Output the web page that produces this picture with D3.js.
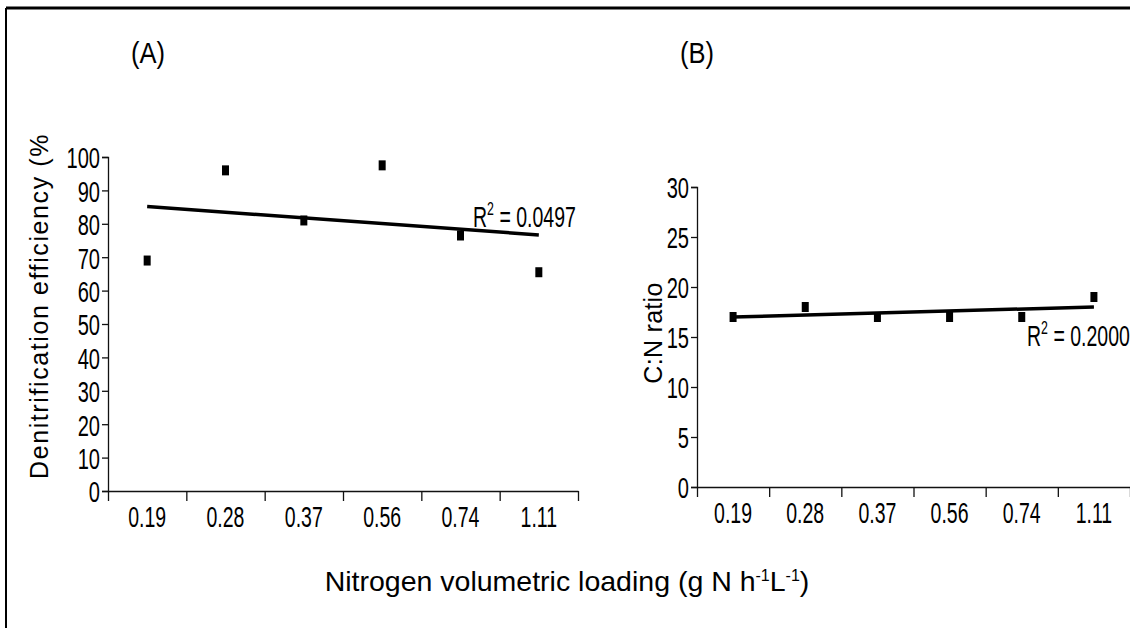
<!DOCTYPE html>
<html>
<head>
<meta charset="utf-8">
<script src="https://cdn.jsdelivr.net/npm/d3@7"></script>
<style>
  body { margin: 0; background: #fff; }
  svg { display: block; }
  text { fill: #000; }
  .narrow { font-family: 'Liberation Sans Narrow', 'Arial Narrow', 'Liberation Sans', sans-serif; }
  .wide { font-family: 'Liberation Sans', Arial, sans-serif; }
</style>
</head>
<body>
<script>
const width = 1130;
const height = 628;

// values
const loadings = ['0.19', '0.28', '0.37', '0.56', '0.74', '1.11'];
const efficiency = [69, 96, 81, 97.5, 76.5, 65.5];
const cnRatio = [17, 18, 17, 17, 17, 19];
const efficiencyTicks = d3.range(0, 101, 10);
const cnTicks = d3.range(0, 31, 5);
const r2Labels = ['0.0497', '0.2000'];

// the source font is a tall, squeezed sans
const squeezeX = 0.65;
const squeezeY = 0.67;

const svg = d3.select('body')
  .append('svg')
    .attr('width', width)
    .attr('height', height);

// frame: top and left edges only
svg.append('line')
  .attr('x1', 6).attr('x2', width).attr('y1', 8).attr('y2', 8)
  .attr('stroke', '#000').attr('stroke-width', 3);
svg.append('line')
  .attr('x1', 6).attr('x2', 6).attr('y1', 8).attr('y2', height)
  .attr('stroke', '#000').attr('stroke-width', 2);

const fit = (values) => {
  const xs = values.map((d, i) => i);
  const mx = d3.mean(xs);
  const my = d3.mean(values);
  const slope = d3.sum(xs, (x, i) => (x - mx) * (values[i] - my)) / d3.sum(xs, (x) => (x - mx) ** 2);
  return (i) => my + slope * (i - mx);
};

const drawPanel = (opts) => {
  const g = svg.append('g');

  const x = d3.scaleBand()
    .domain(loadings)
    .range([opts.left, opts.right]);

  const xEdge = d3.scaleLinear()
    .domain([0, loadings.length])
    .range([opts.left, opts.right]);

  const y = d3.scaleLinear()
    .domain([0, d3.max(opts.ticks)])
    .range([opts.bottom, opts.top]);

  const cx = (c) => x(c) + x.bandwidth() / 2;

  // y axis
  const yAxis = g.append('g')
    .attr('transform', `translate(${opts.left},0)`)
    .call(d3.axisLeft(y).tickValues(opts.ticks).tickSize(6).tickSizeOuter(6));

  yAxis.selectAll('text')
    .attr('class', 'narrow')
    .attr('x', null)
    .attr('dy', '0.36em')
    .attr('transform', `translate(-8,0) scale(${squeezeY},1)`)
    .style('font-size', '30px');

  // x axis: edge ticks, labels centred in the bands
  g.append('g')
    .attr('transform', `translate(0,${opts.bottom})`)
    .call(d3.axisBottom(xEdge).ticks(loadings.length).tickFormat('').tickSize(10).tickSizeOuter(0));

  const xLabels = g.append('g')
    .attr('transform', `translate(0,${opts.bottom})`)
    .call(d3.axisBottom(x).tickSize(0));
  xLabels.select('.domain').remove();
  xLabels.selectAll('text')
    .attr('class', 'narrow')
    .attr('y', null)
    .attr('dy', '0.71em')
    .attr('transform', `translate(0,15) scale(${squeezeX},1)`)
    .style('font-size', '30px');

  g.selectAll('.domain, .tick line')
    .attr('stroke', '#111')
    .attr('stroke-width', 1.3);

  // trend line
  const line = fit(opts.values);
  g.append('line')
    .attr('x1', cx(loadings[0]))
    .attr('x2', cx(loadings[loadings.length - 1]))
    .attr('y1', y(line(0)))
    .attr('y2', y(line(loadings.length - 1)))
    .attr('stroke', '#000')
    .attr('stroke-width', 3.5);

  // points
  g.selectAll('rect.pt')
    .data(opts.values)
    .join('rect')
      .attr('class', 'pt')
      .attr('x', (d, i) => cx(loadings[i]) - 3.5)
      .attr('y', (d) => y(d) - 5)
      .attr('width', 7)
      .attr('height', 10)
      .attr('fill', '#000');

  // R squared
  const r2 = g.append('text')
    .attr('class', 'narrow')
    .attr('transform', `translate(${opts.r2x},${opts.r2y}) scale(${squeezeX},1)`)
    .style('font-size', '30px');
  r2.append('tspan').text('R');
  r2.append('tspan').attr('dy', -12).style('font-size', '19px').text('2');
  r2.append('tspan').attr('dy', 12).text(' = ' + opts.r2);

  // panel letter
  g.append('text')
    .attr('class', 'narrow')
    .attr('transform', `translate(${opts.letterX},63) scale(0.85,1)`)
    .attr('text-anchor', 'middle')
    .style('font-size', '30px')
    .text(opts.letter);

  // y title
  g.append('text')
    .attr('class', 'narrow')
    .attr('transform', `translate(${opts.titleX},${opts.titleY}) rotate(-90)`)
    .attr('text-anchor', opts.titleAnchor)
    .style('font-size', '25px')
    .style('letter-spacing', opts.titleSpacing)
    .text(opts.title);
};

drawPanel({
  left: 108, right: 578, top: 157, bottom: 491,
  ticks: efficiencyTicks,
  values: efficiency,
  r2: r2Labels[0], r2x: 473, r2y: 227,
  letter: '(A)', letterX: 148,
  title: 'Denitrification efficiency (%',
  titleX: 48, titleY: 479, titleAnchor: 'start', titleSpacing: '1.6px'
});

drawPanel({
  left: 697, right: 1130, top: 187, bottom: 487,
  ticks: cnTicks,
  values: cnRatio,
  r2: r2Labels[1], r2x: 1027, r2y: 346,
  letter: '(B)', letterX: 697,
  title: 'C:N ratio',
  titleX: 662, titleY: 333, titleAnchor: 'middle', titleSpacing: '0.3px'
});

// shared x title
const xt = svg.append('text')
  .attr('class', 'wide')
  .attr('x', 567)
  .attr('y', 591)
  .attr('text-anchor', 'middle')
  .style('font-size', '28.5px');
xt.append('tspan').text('Nitrogen volumetric loading (g N h');
xt.append('tspan').attr('dy', -10).style('font-size', '16px').text('-1');
xt.append('tspan').attr('dy', 10).text('L');
xt.append('tspan').attr('dy', -10).style('font-size', '16px').text('-1');
xt.append('tspan').attr('dy', 10).text(')');
</script>
</body>
</html>
